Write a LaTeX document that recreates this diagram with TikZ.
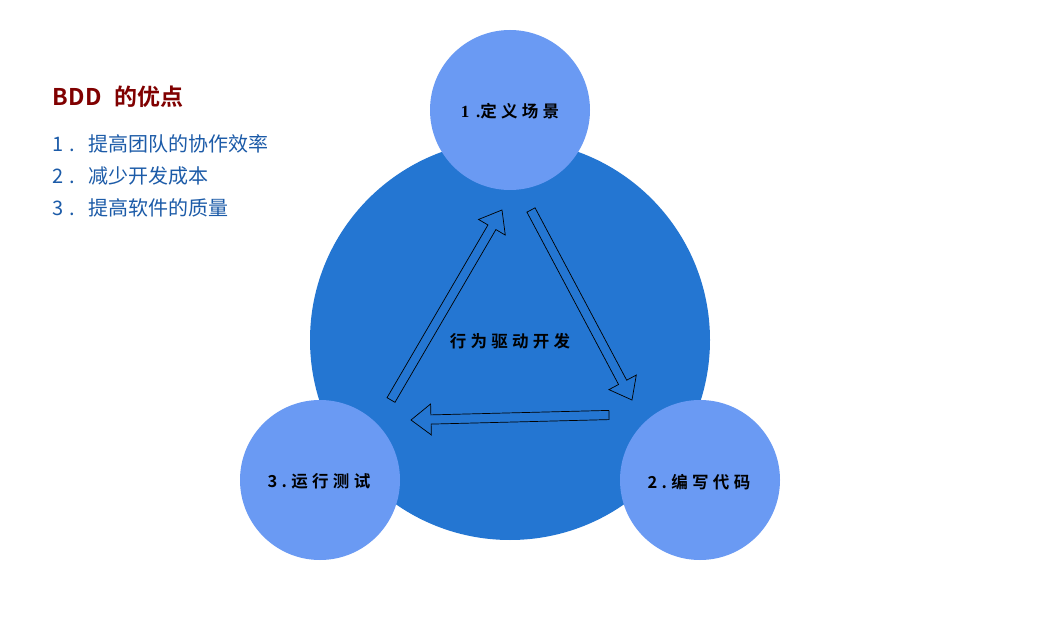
\documentclass[tikz,border=0pt]{standalone}
\usepackage{fontspec}
\setmainfont{Noto Sans CJK SC}
\newfontfamily\cjk{Noto Sans CJK SC}
\newfontfamily\cjkb[LetterSpace=26]{Noto Sans CJK SC Bold}
\newfontfamily\titlef{Noto Sans CJK SC Bold}
\newfontfamily\serifb[LetterSpace=40]{Liberation Serif Bold}
\usetikzlibrary{calc}
\definecolor{bigc}{HTML}{2476D2}
\definecolor{smallc}{HTML}{6A9AF3}
\definecolor{titlered}{HTML}{800000}
\definecolor{listblue}{HTML}{1C5BA8}
\tikzset{
  bigcircle/.style={circle, fill=bigc, minimum size=400pt, inner sep=0pt},
  smallcircle/.style={circle, fill=smallc, minimum size=160pt, inner sep=0pt, font=\cjkb\fontsize{16.5pt}{18pt}\selectfont},
  arrowline/.style={draw=black, line width=0.7pt, line join=miter},
  listitem/.style={anchor=west, inner sep=0pt, text=listblue, font=\cjk\fontsize{20pt}{24pt}\selectfont},
}
\newcommand\blockarrow[3]{%
  \coordinate (#3t) at #1;
  \coordinate (#3p) at #2;
  \coordinate (#3h) at ($(#3p)!20pt!(#3t)$);
  \draw[arrowline] ($(#3t)!4.6pt!90:(#3p)$) -- ($(#3h)!4.6pt!90:(#3p)$) -- ($(#3h)!15.5pt!90:(#3p)$) -- (#3p) -- ($(#3h)!15.5pt!-90:(#3p)$) -- ($(#3h)!4.6pt!-90:(#3p)$) -- ($(#3t)!4.6pt!-90:(#3p)$) -- cycle;%
}
\begin{document}
\begin{tikzpicture}[x=1pt, y=-1pt]
\useasboundingbox[fill=white] (0,0) rectangle (1050,620);
% circles
\node[bigcircle] (core) at (510,340) {};
\node[inner sep=0pt, font=\cjkb\fontsize{16.5pt}{18pt}\selectfont] (coretext) at (509,341) {\hspace*{2pt}行为驱动开发};
\node[smallcircle] (define) at (510,110) {};
\node[inner sep=0pt, font=\cjkb\fontsize{16.5pt}{18pt}\selectfont] (definetext) at (509,111.5) {\hspace*{2pt}{\serifb\fontsize{17pt}{18pt}\selectfont 1.}定义场景};
\node[smallcircle] (code) at (700,480) {};
\node[inner sep=0pt, font=\cjkb\fontsize{16.5pt}{18pt}\selectfont] (codetext) at (698,482) {\hspace*{2pt}2.编写代码};
\node[smallcircle] (test) at (320,480) {};
\node[inner sep=0pt, font=\cjkb\fontsize{16.5pt}{18pt}\selectfont] (testtext) at (318,481.5) {\hspace*{2pt}3.运行测试};
% hollow block arrows
\blockarrow{(391,400)}{(502,210)}{a}
\blockarrow{(531,210)}{(632,400)}{b}
\blockarrow{(609,415)}{(411,420)}{c}
% left text
\node[anchor=west, inner sep=0pt, text=titlered, font=\titlef\fontsize{23pt}{26pt}\selectfont] (title) at (52,97) {B\hspace{0.5pt}D\hspace{0.5pt}D\hspace{13pt}的优点};
\node[listitem] (item1) at (52,144) {\makebox[36pt][l]{1\hspace{6pt}.}提高团队的协作效率};
\node[listitem] (item2) at (52,176) {\makebox[36pt][l]{2\hspace{6pt}.}减少开发成本};
\node[listitem] (item3) at (52,208) {\makebox[36pt][l]{3\hspace{6pt}.}提高软件的质量};
\end{tikzpicture}
\end{document}
